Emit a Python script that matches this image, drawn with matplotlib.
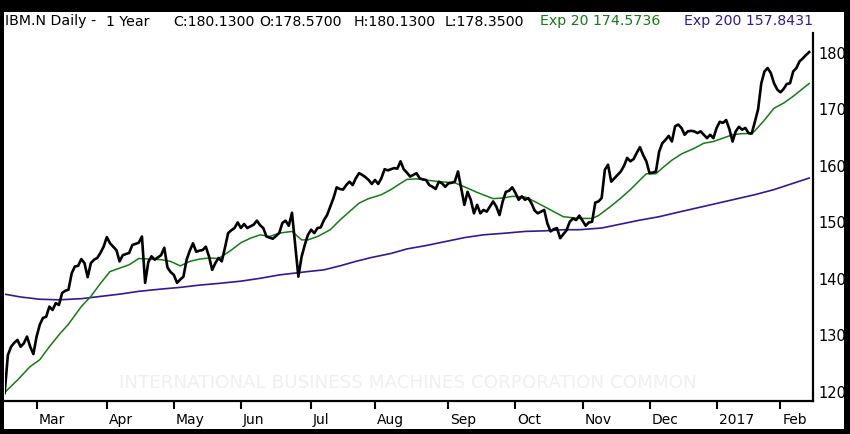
import matplotlib
matplotlib.use("Agg")
import matplotlib.pyplot as plt
import matplotlib.transforms as mtransforms
from matplotlib.patches import Rectangle
import pandas as pd

# trading calendar (NYSE holidays in the window)
holidays = ["2016-03-25", "2016-05-30", "2016-07-04", "2016-09-05",
            "2016-11-24", "2016-12-26", "2017-01-02", "2017-01-16"]
days = pd.bdate_range("2016-02-16", "2017-02-14", freq="C", holidays=holidays)

# daily close
close = [
    119.8, 126.5, 128.0, 128.7, 129.2, 128.0, 128.6, 129.8, 128.0, 126.7,
    129.8, 131.9, 133.1, 133.3, 135.1, 134.5, 135.7, 135.4, 137.5, 137.9,
    138.1, 141.0, 142.2, 142.3, 143.5, 142.8, 140.3, 142.8, 143.4, 143.7,
    144.6, 145.7, 147.4, 146.3, 145.7, 145.1, 143.1, 144.2, 144.4, 144.6,
    146.0, 146.2, 146.4, 147.5, 139.3, 143.0, 144.0, 143.4, 143.8, 144.2,
    145.5, 142.0, 141.2, 140.7, 139.3, 139.9, 140.4, 143.4, 145.0, 146.3,
    144.8, 145.0, 145.1, 145.7, 144.0, 141.6, 142.8, 143.7, 143.1, 145.5,
    148.1, 148.6, 149.0, 150.0, 149.0, 149.7, 149.0, 149.3, 149.6, 150.3,
    149.5, 149.0, 147.5, 147.3, 147.1, 147.6, 148.1, 149.9, 150.3, 149.4,
    151.7, 146.0, 140.4, 143.9, 146.0, 147.8, 148.7, 148.1, 149.0, 149.1,
    150.4, 151.3, 152.8, 154.3, 156.2, 155.9, 155.8, 156.6, 157.2, 156.6,
    157.8, 158.7, 158.4, 158.0, 157.5, 156.8, 157.5, 156.8, 157.8, 159.4,
    159.2, 159.4, 159.6, 159.5, 160.8, 159.4, 158.8, 158.1, 158.4, 158.7,
    157.8, 157.6, 157.5, 156.6, 156.3, 155.9, 157.2, 156.9, 156.3, 156.9,
    157.0, 157.2, 159.0, 156.0, 153.1, 155.4, 154.0, 151.6, 153.1, 151.6,
    152.2, 151.9, 152.8, 153.7, 152.8, 151.3, 153.7, 155.4, 155.6, 156.2,
    155.2, 154.0, 154.6, 154.0, 154.3, 153.4, 152.1, 151.6, 151.9, 152.2,
    149.8, 148.4, 148.8, 149.0, 147.2, 147.9, 148.6, 150.1, 150.7, 150.4,
    151.2, 150.3, 149.4, 150.0, 150.1, 153.5, 153.7, 154.3, 159.3, 160.2,
    157.2, 157.8, 158.4, 159.0, 160.0, 161.4, 160.8, 161.2, 162.3, 163.3,
    161.9, 160.8, 158.7, 158.8, 159.0, 162.5, 164.0, 164.6, 165.3, 164.3,
    167.0, 167.3, 166.7, 165.5, 166.1, 166.2, 166.1, 165.8, 166.1, 165.5,
    164.9, 165.5, 164.9, 166.7, 167.8, 167.6, 168.1, 166.5, 164.3, 166.1,
    166.9, 166.4, 166.7, 165.8, 165.7, 167.8, 170.0, 174.6, 176.7, 177.3,
    176.4, 174.6, 173.5, 173.0, 173.6, 174.5, 174.6, 176.7, 177.3, 178.5,
    179.0, 179.6, 180.13,
]

# moving averages at selected trading days
ema20_day = [0, 4, 8, 11, 14, 17, 20, 24, 27, 30, 33, 36, 39, 42, 46, 49, 52,
             55, 58, 61, 64, 67, 71, 74, 77, 80, 83, 86, 90, 93, 95, 98, 102,
             105, 108, 111, 114, 118, 121, 124, 126, 129, 132, 136, 141, 144,
             148, 153, 156, 159, 163, 166, 169, 172, 175, 180, 184, 186, 190,
             193, 196, 199, 201, 204, 206, 209, 212, 216, 219, 222, 225, 228,
             231, 234, 235, 238, 241, 244, 247, 252]
ema20_val = [119.9, 122.1, 124.5, 125.7, 128.0, 130.1, 132.0, 135.1, 136.9,
             139.2, 141.3, 141.9, 142.5, 143.6, 143.5, 143.4, 143.1, 142.3,
             143.1, 143.5, 143.7, 143.6, 145.1, 146.4, 147.2, 147.8, 147.5,
             148.1, 148.4, 146.9, 146.9, 147.5, 148.7, 150.4, 151.9, 153.4,
             154.2, 154.9, 155.8, 156.9, 157.6, 157.7, 157.5, 157.2, 157.0,
             156.3, 155.3, 154.2, 154.3, 154.6, 154.5, 153.7, 152.8, 151.9,
             151.0, 150.7, 150.7, 151.2, 152.9, 154.3, 155.8, 157.5, 158.6,
             158.6, 159.6, 161.0, 162.1, 163.1, 164.0, 164.3, 164.9, 165.5,
             165.7, 165.7, 166.2, 168.1, 170.2, 171.1, 172.3, 174.5736]

ema200_day = [0, 5, 11, 17, 24, 30, 36, 42, 49, 55, 61, 67, 74, 80, 86, 92, 95,
              100, 105, 110, 115, 121, 126, 132, 138, 144, 150, 157, 163, 169,
              175, 180, 187, 193, 199, 205, 211, 218, 235, 241, 252]
ema200_val = [137.3, 136.8, 136.4, 136.3, 136.5, 136.9, 137.3, 137.8, 138.2,
              138.5, 138.9, 139.2, 139.6, 140.1, 140.7, 141.1, 141.3, 141.6,
              142.3, 143.1, 143.8, 144.5, 145.3, 145.9, 146.6, 147.3, 147.8,
              148.1, 148.4, 148.5, 148.7, 148.7, 149.0, 149.7, 150.4, 151.0,
              151.8, 152.7, 154.9, 155.8, 157.8431]

y_ticks = [120, 130, 140, 150, 160, 170, 180]

GREEN = "#167a16"
PURPLE = "#35198f"

W, H = 850, 434
fig = plt.figure(figsize=(W / 100, H / 100), dpi=100)
fig.patch.set_facecolor("white")

ax = fig.add_axes([4.5 / W, 33 / H, (813 - 4.5) / W, 368 / H])
n = min(len(days), len(close))
x = list(range(n))

ax.plot(ema200_day, ema200_val, color=PURPLE, lw=1.2, zorder=2)
ax.plot(ema20_day, ema20_val, color=GREEN, lw=1.1, zorder=3)
ax.plot(x, close[:n], color="black", lw=1.9, zorder=4, solid_joinstyle="round")

ax.set_xlim(-0.05, 253.2)
ax.set_ylim(118.4, 183.5)

# month ticks at first trading day of each month
tick_pos, tick_lab = [], []
for i in range(1, n):
    if days[i].month != days[i - 1].month:
        tick_pos.append(i)
        tick_lab.append(str(days[i].year) if days[i].month == 1 else days[i].strftime("%b"))
ax.set_xticks(tick_pos)
ax.set_xticklabels(tick_lab)
ax.tick_params(axis="x", direction="out", length=6, width=1.5, pad=2.5,
               labelsize=10, colors="black")
offset = mtransforms.ScaledTranslation(2 / 100, 0, fig.dpi_scale_trans)
for lbl in ax.get_xticklabels():
    lbl.set_horizontalalignment("left")
    lbl.set_transform(lbl.get_transform() + offset)

ax.yaxis.tick_right()
ax.set_yticks(y_ticks)
ax.tick_params(axis="y", length=0, pad=4, labelsize=10.5)

for side in ["top", "left"]:
    ax.spines[side].set_visible(False)
for side in ["right", "bottom"]:
    ax.spines[side].set_linewidth(1.6)
    ax.spines[side].set_color("black")

ax.text(0.4985, 0.05, "INTERNATIONAL BUSINESS MACHINES CORPORATION COMMON",
        transform=ax.transAxes, ha="center", va="center", fontsize=13.2,
        color="#f0f0f0", zorder=1)

# header line
ty = 1 - 21.5 / H
header = [
    (5, "IBM.N Daily -", "black"),
    (106, "1 Year", "black"),
    (173.3, "C:180.1300", "black"),
    (259.3, "O:178.5700", "black"),
    (353.3, "H:180.1300", "black"),
    (445, "L:178.3500", "black"),
    (540, "Exp 20 174.5736", GREEN),
    (684, "Exp 200 157.8431", PURPLE),
]
for px, txt, col in header:
    fig.text(px / W, ty, txt, color=col, fontsize=10.2, ha="left", va="center")

# black outer frame of the screenshot
for (x0, y0, w, h) in [(0, 0, 4 / W, 1), (844 / W, 0, 6 / W, 1),
                       (0, 0, 1, 5 / H), (0, 1 - 12 / H, 1, 12 / H)]:
    fig.patches.append(Rectangle((x0, y0), w, h, transform=fig.transFigure,
                                 facecolor="black", edgecolor="none", zorder=10))

fig.savefig("out.png", dpi=100, facecolor="white")
